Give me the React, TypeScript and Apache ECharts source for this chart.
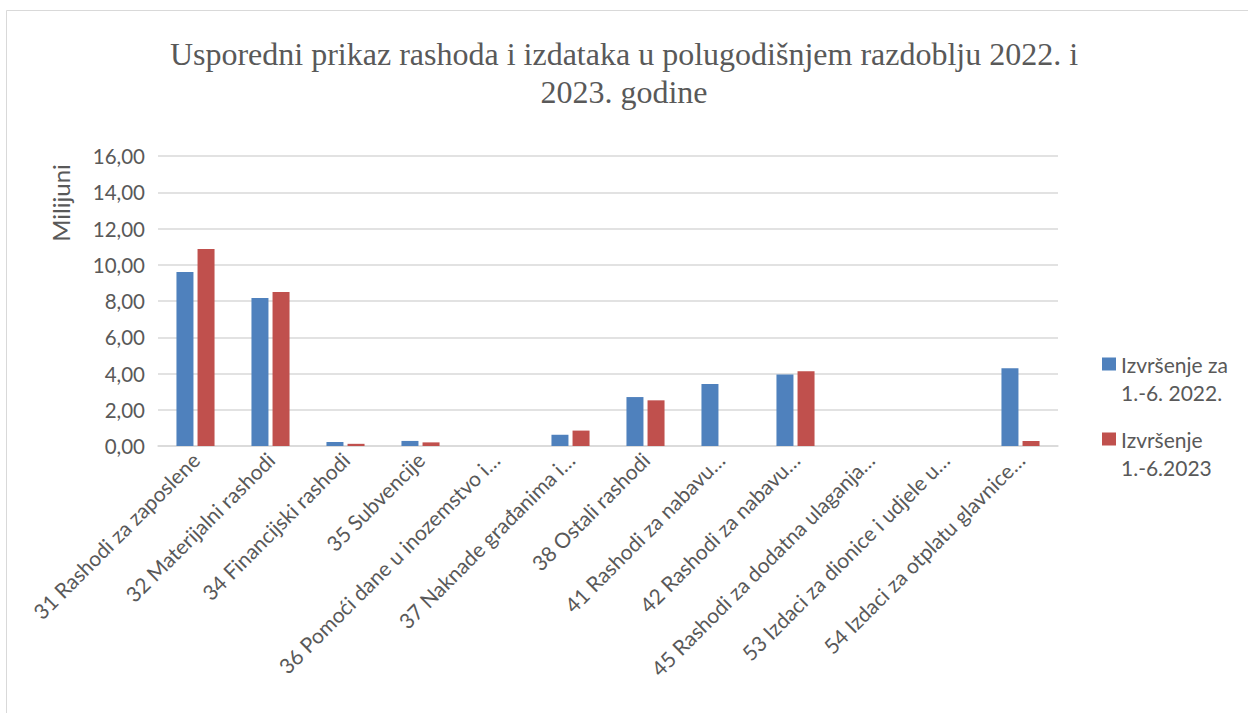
import React, { useEffect, useRef } from "react";
import * as echarts from "echarts";

const categories = [
  "31 Rashodi za zaposlene",
  "32 Materijalni rashodi",
  "34 Financijski rashodi",
  "35 Subvencije",
  "36 Pomoći dane u inozemstvo i…",
  "37 Naknade građanima i…",
  "38 Ostali rashodi",
  "41 Rashodi za nabavu…",
  "42 Rashodi za nabavu…",
  "45 Rashodi za dodatna ulaganja…",
  "53 Izdaci za dionice i udjele u…",
  "54 Izdaci za otplatu glavnice…",
];
const series2022 = [9.6, 8.17, 0.22, 0.28, 0, 0.62, 2.7, 3.42, 3.95, 0, 0, 4.29];
const series2023 = [10.87, 8.5, 0.12, 0.2, 0, 0.85, 2.52, 0, 4.12, 0, 0, 0.27];
const seriesNames = ["Izvršenje za\n1.-6. 2022.", "Izvršenje\n1.-6.2023"];
const yTicks = { min: 0, max: 16, interval: 2 };

export default function App() {
  const ref = useRef<HTMLDivElement>(null);
  useEffect(() => {
    if (!ref.current) return;
    const chart = echarts.init(ref.current, undefined, { renderer: "svg" });
    const font = "Lato, 'Open Sans', sans-serif";
    // square aligned to the first text line of a two-line legend entry
    const legendIcon = "path://M0,0L14,0L14,13L0,13Z M0,41L0.01,41";
    chart.setOption({
      animation: false,
      backgroundColor: "#ffffff",
      title: {
        text: "Usporedni prikaz rashoda i izdataka u polugodišnjem razdoblju 2022. i\n2023. godine",
        left: "center",
        top: 30,
        textStyle: {
          fontFamily: "'Liberation Serif', 'DejaVu Serif', serif",
          fontSize: 32,
          fontWeight: "normal",
          color: "#595959",
          lineHeight: 38,
        },
      },
      legend: {
        orient: "vertical",
        left: 1102,
        top: 350,
        padding: 0,
        itemWidth: 14,
        itemHeight: 41,
        itemGap: 19,
        icon: legendIcon,
        textStyle: { fontFamily: font, fontSize: 21, color: "#595959", lineHeight: 28 },
        data: seriesNames,
      },
      grid: { left: 158, right: 190, top: 156, bottom: 267, containLabel: false },
      xAxis: {
        type: "category",
        data: categories,
        axisLine: { lineStyle: { color: "#d9d9d9", width: 1.5 } },
        axisTick: { show: false },
        axisLabel: {
          rotate: 45,
          interval: 0,
          fontFamily: font,
          fontSize: 21,
          color: "#595959",
          margin: 10,
        },
      },
      yAxis: {
        type: "value",
        min: yTicks.min,
        max: yTicks.max,
        interval: yTicks.interval,
        splitLine: { lineStyle: { color: "#d9d9d9", width: 1.5 } },
        axisLine: { show: false },
        axisTick: { show: false },
        axisLabel: {
          fontFamily: font,
          fontSize: 20.5,
          color: "#595959",
          margin: 13,
          formatter: (v: number) => v.toFixed(2).replace(".", ","),
        },
      },
      graphic: [
        {
          type: "rect",
          shape: { x: 6.5, y: 10.5, width: 1260, height: 720 },
          style: { fill: "none", stroke: "#d9d9d9", lineWidth: 1 },
          silent: true,
        },
        {
          type: "text",
          x: 60,
          y: 203,
          rotation: Math.PI / 2,
          style: {
            text: "Milijuni",
            fontFamily: font,
            fontSize: 24,
            fill: "#595959",
            align: "center",
            verticalAlign: "middle",
          },
        },
      ],
      series: [
        {
          name: seriesNames[0],
          type: "bar",
          data: series2022,
          barWidth: 17,
          barGap: "24%",
          itemStyle: { color: "#4f81bd" },
        },
        {
          name: seriesNames[1],
          type: "bar",
          data: series2023,
          barWidth: 17,
          itemStyle: { color: "#c0504d" },
        },
      ],
    });
    return () => chart.dispose();
  }, []);
  return (
    <div
      ref={ref}
      style={{ position: "absolute", left: 0, top: 0, width: 1248, height: 713 }}
    />
  );
}
